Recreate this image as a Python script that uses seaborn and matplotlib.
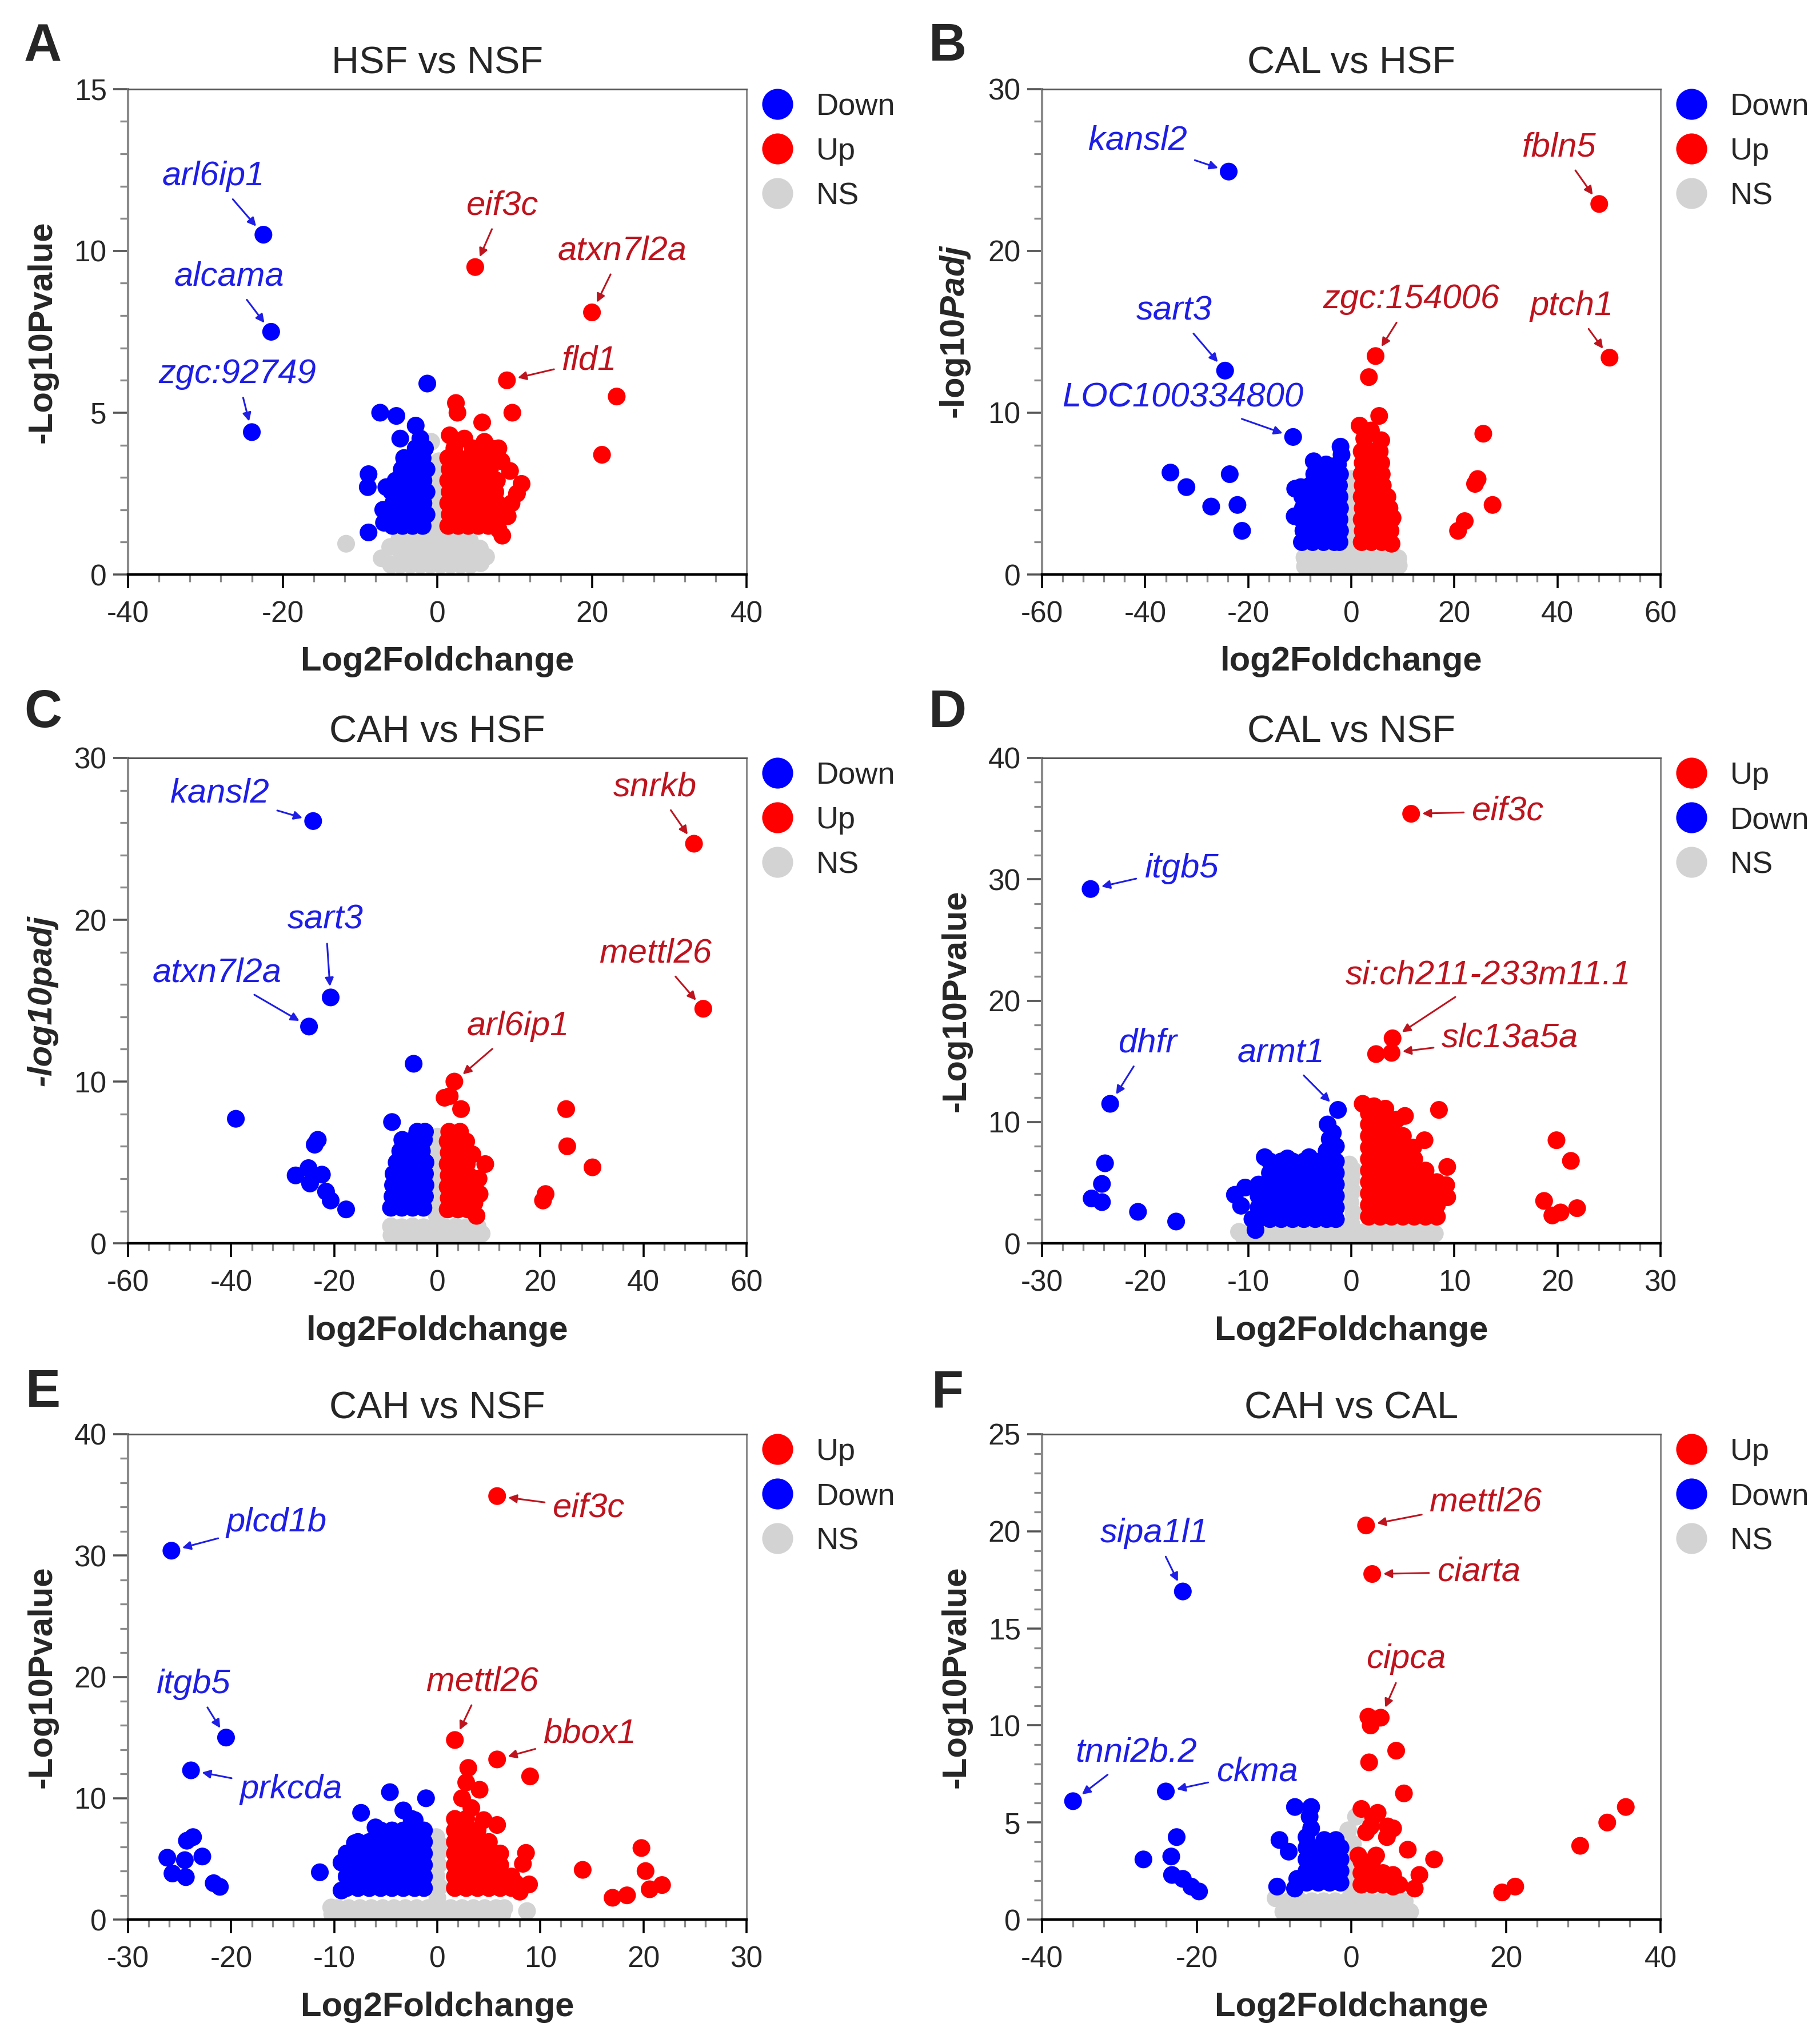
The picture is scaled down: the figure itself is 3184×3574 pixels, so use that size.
import pandas as pd
import matplotlib.pyplot as plt
import seaborn as sns
from matplotlib.lines import Line2D
from matplotlib.ticker import MultipleLocator

sns.set_style('ticks')
plt.rcParams['font.family'] = ['Liberation Sans', 'DejaVu Sans']
plt.rcParams['axes.unicode_minus'] = False
plt.rcParams['mathtext.fontset'] = 'custom'
plt.rcParams['mathtext.rm'] = 'Liberation Sans'
plt.rcParams['mathtext.bf'] = 'Liberation Sans:bold'
plt.rcParams['mathtext.it'] = 'Liberation Sans:italic'
try:
    plt.rcParams['mathtext.bfit'] = 'Liberation Sans:italic:bold'
except KeyError:
    pass

# ---------------- data ----------------
# A: HSF vs NSF
a_ns = [(-7.2, 0.5), (-6.0, 0.3), (-6.1, 0.85), (-4.8, 0.3), (-4.7, 0.7), (-4.9, 1.1),
        (-3.5, 0.3), (-3.4, 0.7), (-3.6, 1.1), (-2.2, 0.3), (-2.1, 0.65), (-2.3, 1.05),
        (-0.9, 0.3), (-0.8, 0.7), (-1.0, 1.1), (0.4, 0.3), (0.5, 0.7), (0.3, 1.1),
        (1.7, 0.3), (1.8, 0.7), (1.6, 1.1), (3.0, 0.3), (3.1, 0.7), (2.9, 1.05),
        (4.3, 0.3), (4.4, 0.7), (4.2, 1.05), (5.6, 0.35), (5.5, 0.8), (6.3, 0.55),
        (-0.3, 1.5), (0.2, 1.9), (-0.2, 2.3), (0.2, 2.7), (-0.1, 3.1), (0.2, 3.5),
        (-0.8, 4.1), (-11.8, 0.95)]
a_down = [(-22.5, 10.5), (-21.5, 7.5), (-24.0, 4.4), (-1.3, 5.9), (-7.4, 5.0), (-5.3, 4.9),
          (-2.8, 4.6), (-4.8, 4.2), (-2.2, 4.2), (-8.9, 3.1), (-9.0, 2.7), (-7.0, 2.0),
          (-8.9, 1.3), (-6.6, 2.7), (-6.9, 1.6),
          (-5.8, 1.5), (-4.5, 1.5), (-3.2, 1.5), (-1.9, 1.5),
          (-6.0, 1.85), (-4.8, 1.85), (-3.5, 1.85), (-2.3, 1.85), (-1.4, 1.85),
          (-5.7, 2.2), (-4.4, 2.2), (-3.1, 2.2), (-1.8, 2.2),
          (-5.9, 2.55), (-4.7, 2.55), (-3.4, 2.55), (-2.1, 2.55), (-1.4, 2.55),
          (-5.4, 2.9), (-4.3, 2.9), (-3.0, 2.9), (-1.8, 2.9),
          (-4.6, 3.25), (-3.4, 3.25), (-2.2, 3.25), (-1.4, 3.25),
          (-4.3, 3.6), (-3.1, 3.6), (-1.9, 3.6), (-2.8, 3.9), (-1.6, 3.9)]
a_up = [(4.9, 9.5), (20.0, 8.1), (9.0, 6.0), (23.2, 5.5), (21.3, 3.7), (2.4, 5.3),
        (2.6, 5.0), (5.8, 4.7), (9.7, 5.0), (1.6, 4.3), (3.5, 4.2), (6.1, 4.1),
        (8.3, 3.5), (7.9, 3.9), (10.9, 2.8), (10.3, 2.5), (9.6, 2.2), (9.1, 1.8),
        (7.9, 1.4), (8.4, 1.2), (9.4, 3.2),
        (1.4, 1.5), (2.7, 1.5), (4.0, 1.5), (5.3, 1.5), (6.6, 1.5),
        (1.6, 1.85), (2.9, 1.85), (4.2, 1.85), (5.5, 1.85), (6.8, 1.85), (7.6, 1.85),
        (1.4, 2.2), (2.7, 2.2), (4.0, 2.2), (5.3, 2.2), (6.6, 2.2), (7.8, 2.2),
        (1.6, 2.55), (2.9, 2.55), (4.2, 2.55), (5.5, 2.55), (6.8, 2.55), (7.5, 2.55),
        (1.4, 2.9), (2.7, 2.9), (4.0, 2.9), (5.3, 2.9), (6.6, 2.9), (7.7, 2.9),
        (1.6, 3.25), (2.9, 3.25), (4.2, 3.25), (5.5, 3.25), (6.8, 3.25),
        (1.4, 3.6), (2.7, 3.6), (4.0, 3.6), (5.3, 3.6), (6.6, 3.6),
        (2.2, 3.9), (4.6, 3.9), (6.9, 3.9)]
a_labels = [('arl6ip1', -22.5, 10.5, -29.0, 12.3, 'Down'), ('alcama', -21.5, 7.5, -26.9, 9.2, 'Down'),
            ('zgc:92749', -24.0, 4.4, -25.9, 6.2, 'Down'), ('eif3c', 4.9, 9.5, 8.4, 11.4, 'Up'),
            ('atxn7l2a', 20.0, 8.1, 23.9, 10.0, 'Up'), ('fld1', 9.0, 6.0, 19.7, 6.6, 'Up')]

# B: CAL vs HSF
b_ns = [(-9.0, 0.5), (-6.9, 0.45), (-4.8, 0.5), (-2.7, 0.45), (-0.6, 0.5), (1.5, 0.45),
        (3.6, 0.5), (5.7, 0.45), (7.8, 0.5), (9.2, 0.55), (-9.1, 1.05), (-7.0, 1.0),
        (-4.9, 1.05), (-2.8, 1.0), (-0.7, 1.05), (1.4, 1.0), (3.5, 1.05), (5.6, 1.0),
        (7.7, 1.05), (9.1, 1.0), (0.0, 1.7), (0.3, 2.4), (-0.2, 3.1), (0.2, 3.8),
        (-0.1, 4.5), (0.1, 5.2), (0.0, 5.9)]
b_down = [(-23.8, 24.9), (-24.5, 12.6), (-11.3, 8.5), (-35.1, 6.3), (-32.0, 5.4),
          (-27.2, 4.2), (-23.6, 6.2), (-22.1, 4.3), (-21.2, 2.7), (-10.9, 5.3),
          (-11.0, 3.6), (-2.1, 7.9), (-1.9, 7.4), (-7.3, 7.0), (-9.8, 5.4),
          (-9.6, 2.0), (-7.5, 2.0), (-5.4, 2.0), (-3.3, 2.0), (-2.3, 2.0),
          (-9.3, 2.7), (-7.2, 2.7), (-5.1, 2.7), (-3.0, 2.7), (-2.2, 2.7),
          (-9.6, 3.4), (-7.5, 3.4), (-5.4, 3.4), (-3.3, 3.4), (-2.3, 3.4),
          (-9.4, 4.1), (-7.3, 4.1), (-5.2, 4.1), (-3.1, 4.1), (-2.2, 4.1),
          (-9.5, 4.8), (-7.4, 4.8), (-5.3, 4.8), (-3.2, 4.8), (-2.3, 4.8),
          (-8.0, 5.5), (-6.1, 5.5), (-4.0, 5.5), (-2.4, 5.5),
          (-7.2, 6.2), (-5.2, 6.2), (-3.3, 6.2), (-2.2, 6.2),
          (-6.8, 6.8), (-4.9, 6.8), (-2.6, 6.8)]
b_up = [(48.1, 22.9), (50.1, 13.4), (4.7, 13.5), (3.4, 12.2), (5.4, 9.8), (1.6, 9.2),
        (3.8, 8.9), (5.8, 8.3), (2.5, 8.4), (8.0, 3.5), (7.8, 1.9), (25.6, 8.7),
        (24.0, 5.6), (24.5, 5.9), (27.4, 4.3), (22.0, 3.3), (20.7, 2.7),
        (2.0, 2.0), (3.9, 2.0), (5.9, 2.0), (7.3, 2.0),
        (2.2, 2.7), (4.1, 2.7), (6.1, 2.7), (7.6, 2.7),
        (2.0, 3.4), (3.9, 3.4), (5.9, 3.4), (7.8, 3.4),
        (2.2, 4.1), (4.1, 4.1), (6.1, 4.1), (7.4, 4.1),
        (2.0, 4.8), (3.9, 4.8), (5.9, 4.8), (7.0, 4.8),
        (2.2, 5.5), (4.1, 5.5), (6.1, 5.5),
        (2.0, 6.2), (3.9, 6.2), (5.9, 6.2),
        (2.2, 6.9), (4.1, 6.9), (5.8, 6.9),
        (2.0, 7.6), (3.9, 7.6), (5.5, 7.6)]
b_labels = [('kansl2', -23.8, 24.9, -41.5, 26.8, 'Down'), ('sart3', -24.5, 12.6, -34.4, 16.3, 'Down'),
            ('LOC100334800', -11.3, 8.5, -32.7, 10.9, 'Down'), ('zgc:154006', 4.7, 13.5, 11.6, 17.0, 'Up'),
            ('fbln5', 48.1, 22.9, 40.3, 26.4, 'Up'), ('ptch1', 50.1, 13.4, 42.8, 16.6, 'Up')]

# C: CAH vs HSF
c_ns = [(-8.9, 0.5), (-6.8, 0.45), (-4.7, 0.5), (-2.6, 0.45), (-0.5, 0.5), (1.6, 0.45),
        (3.7, 0.5), (5.8, 0.45), (7.9, 0.5), (8.6, 0.6), (-9.0, 1.05), (-6.9, 1.0),
        (-4.8, 1.05), (-2.7, 1.0), (-0.6, 1.05), (1.5, 1.0), (3.6, 1.05), (5.7, 1.0),
        (7.8, 1.05), (-0.1, 1.7), (0.2, 2.4), (-0.2, 3.1), (0.1, 3.8), (-0.1, 4.5),
        (0.2, 5.2), (-0.1, 5.9), (0.0, 6.6)]
c_down = [(-24.1, 26.1), (-20.7, 15.2), (-24.9, 13.4), (-39.1, 7.7), (-23.2, 6.4),
          (-23.8, 6.1), (-27.5, 4.2), (-25.0, 4.65), (-22.4, 4.25), (-24.7, 3.7),
          (-21.6, 3.2), (-20.7, 2.65), (-17.7, 2.1), (-4.6, 11.1), (-8.8, 7.5),
          (-9.0, 2.2), (-6.9, 2.2), (-4.8, 2.2), (-2.7, 2.2),
          (-8.7, 2.9), (-6.6, 2.9), (-4.5, 2.9), (-2.4, 2.9),
          (-8.6, 3.6), (-6.5, 3.6), (-4.4, 3.6), (-2.3, 3.6),
          (-8.5, 4.3), (-6.4, 4.3), (-4.3, 4.3), (-2.4, 4.3),
          (-7.9, 5.0), (-5.8, 5.0), (-3.7, 5.0), (-2.3, 5.0),
          (-7.2, 5.7), (-5.1, 5.7), (-3.0, 5.7),
          (-6.8, 6.4), (-4.7, 6.4), (-2.6, 6.4), (-3.9, 6.9), (-2.4, 6.9)]
c_up = [(49.8, 24.7), (51.6, 14.5), (3.3, 10.0), (1.4, 9.0), (2.4, 9.1), (4.6, 8.3),
        (9.3, 4.9), (8.0, 4.0), (8.2, 3.05), (7.6, 1.7), (7.2, 2.5), (6.8, 5.5),
        (25.0, 8.3), (25.2, 6.0), (30.1, 4.7), (21.0, 3.05), (20.5, 2.65),
        (2.0, 2.1), (4.0, 2.1), (5.9, 2.1), (2.2, 2.8), (4.2, 2.8), (6.1, 2.8),
        (2.0, 3.5), (4.0, 3.5), (5.9, 3.5), (2.2, 4.2), (4.2, 4.2), (6.1, 4.2),
        (2.0, 4.9), (4.0, 4.9), (5.7, 4.9), (2.2, 5.6), (4.2, 5.6), (5.9, 5.6),
        (2.0, 6.3), (4.0, 6.3), (5.6, 6.3), (2.3, 6.9), (4.4, 6.9)]
c_labels = [('kansl2', -24.1, 26.1, -42.2, 27.8, 'Down'), ('sart3', -20.7, 15.2, -21.7, 20.0, 'Down'),
            ('atxn7l2a', -24.9, 13.4, -42.7, 16.7, 'Down'), ('snrkb', 49.8, 24.7, 42.2, 28.2, 'Up'),
            ('mettl26', 51.6, 14.5, 42.4, 17.9, 'Up'), ('arl6ip1', 3.3, 10.0, 15.7, 13.4, 'Up')]

# D: CAL vs NSF
d_ns = [(-10.4, 0.45), (-9.3, 0.45), (-8.2, 0.45), (-7.1, 0.45), (-6.0, 0.45), (-4.9, 0.45),
        (-3.8, 0.45), (-2.7, 0.45), (-1.6, 0.45), (-0.5, 0.45), (0.6, 0.45), (1.7, 0.45),
        (2.8, 0.45), (3.9, 0.45), (5.0, 0.45), (6.1, 0.45), (7.2, 0.45),
        (-9.9, 0.9), (-8.8, 0.9), (-7.7, 0.9), (-6.6, 0.9), (-5.5, 0.9), (-4.4, 0.9),
        (-3.3, 0.9), (-2.2, 0.9), (-1.1, 0.9), (0.0, 0.9), (1.1, 0.9), (2.2, 0.9),
        (3.3, 0.9), (4.4, 0.9), (5.5, 0.9), (6.6, 0.9), (7.6, 0.9),
        (-10.9, 0.95), (8.1, 0.8), (0.0, 1.6), (0.2, 2.5), (-0.1, 3.4), (0.1, 4.3),
        (0.0, 5.2), (0.2, 6.0), (-0.2, 6.5)]
d_down = [(-25.3, 29.2), (-23.4, 11.5), (-1.3, 11.0), (-23.9, 6.6), (-24.2, 4.9), (-25.2, 3.7),
          (-24.2, 3.4), (-20.7, 2.6), (-17.0, 1.8), (-2.3, 9.8), (-1.5, 8.0), (-1.8, 9.1),
          (-2.1, 8.6), (-11.3, 4.0), (-10.7, 3.1), (-9.3, 1.1), (-10.3, 4.6), (-9.6, 2.0),
          (-8.4, 7.1), (-6.2, 7.0), (-4.1, 7.1),
          (-9.0, 2.0), (-9.0, 2.95), (-9.0, 3.9), (-9.0, 4.85),
          (-7.9, 2.0), (-7.9, 2.95), (-7.9, 3.9), (-7.9, 4.85), (-7.9, 5.8), (-7.9, 6.75),
          (-6.8, 2.0), (-6.8, 2.95), (-6.8, 3.9), (-6.8, 4.85), (-6.8, 5.8), (-6.8, 6.75),
          (-5.7, 2.0), (-5.7, 2.95), (-5.7, 3.9), (-5.7, 4.85), (-5.7, 5.8), (-5.7, 6.75),
          (-4.6, 2.0), (-4.6, 2.95), (-4.6, 3.9), (-4.6, 4.85), (-4.6, 5.8), (-4.6, 6.75),
          (-3.5, 2.0), (-3.5, 2.95), (-3.5, 3.9), (-3.5, 4.85), (-3.5, 5.8), (-3.5, 6.75),
          (-2.4, 2.0), (-2.4, 2.95), (-2.4, 3.9), (-2.4, 4.85), (-2.4, 5.8), (-2.4, 6.75),
          (-2.4, 7.6), (-1.5, 2.0), (-1.5, 2.95), (-1.5, 3.9), (-1.5, 4.85), (-1.5, 5.8),
          (-1.5, 6.75)]
d_up = [(5.8, 35.4), (4.0, 16.9), (3.9, 15.7), (2.4, 15.6), (19.9, 8.5), (21.3, 6.8),
        (18.7, 3.5), (19.5, 2.3), (20.3, 2.55), (21.9, 2.9), (1.1, 11.5), (3.3, 11.1),
        (5.2, 10.5), (8.5, 11.0), (7.1, 8.5), (9.3, 6.3), (9.3, 3.8), (9.2, 4.8),
        (6.0, 7.9), (4.4, 10.2), (2.2, 11.3),
        (1.7, 2.2), (1.7, 3.15), (1.7, 4.1), (1.7, 5.05), (1.7, 6.0), (1.7, 6.95),
        (1.7, 7.9), (1.7, 8.85), (1.7, 9.8), (1.7, 10.7),
        (2.8, 2.2), (2.8, 3.15), (2.8, 4.1), (2.8, 5.05), (2.8, 6.0), (2.8, 6.95),
        (2.8, 7.9), (2.8, 8.85), (2.8, 9.8), (2.8, 10.7),
        (3.9, 2.2), (3.9, 3.15), (3.9, 4.1), (3.9, 5.05), (3.9, 6.0), (3.9, 6.95),
        (3.9, 7.9), (3.9, 8.85), (3.9, 9.8),
        (5.0, 2.2), (5.0, 3.15), (5.0, 4.1), (5.0, 5.05), (5.0, 6.0), (5.0, 6.95),
        (5.0, 7.9), (5.0, 8.85),
        (6.1, 2.2), (6.1, 3.15), (6.1, 4.1), (6.1, 5.05), (6.1, 6.0), (6.1, 6.95),
        (7.2, 2.2), (7.2, 3.15), (7.2, 4.1), (7.2, 5.05), (7.2, 6.0),
        (8.3, 2.2), (8.3, 3.15), (8.3, 4.1), (8.3, 5.05)]
d_labels = [('eif3c', 5.8, 35.4, 15.2, 35.6, 'Up'), ('itgb5', -25.3, 29.2, -16.5, 30.9, 'Down'),
            ('dhfr', -23.4, 11.5, -19.7, 16.5, 'Down'), ('armt1', -1.3, 11.0, -6.8, 15.7, 'Down'),
            ('si:ch211-233m11.1', 4.0, 16.9, 13.3, 22.1, 'Up'), ('slc13a5a', 3.9, 15.7, 15.4, 16.9, 'Up')]

# E: CAH vs NSF
e_ns = [(-10.2, 0.45), (-9.1, 0.45), (-8.0, 0.45), (-6.9, 0.45), (-5.8, 0.45), (-4.7, 0.45),
        (-3.6, 0.45), (-2.5, 0.45), (-1.4, 0.45), (-0.3, 0.45), (0.8, 0.45), (1.9, 0.45),
        (3.0, 0.45), (4.1, 0.45), (5.2, 0.45), (6.3, 0.45),
        (-9.7, 0.95), (-8.6, 0.95), (-7.5, 0.95), (-6.4, 0.95), (-5.3, 0.95), (-4.2, 0.95),
        (-3.1, 0.95), (-2.0, 0.95), (-0.9, 0.95), (0.2, 0.95), (1.3, 0.95), (2.4, 0.95),
        (3.5, 0.95), (4.6, 0.95), (5.7, 0.95), (6.5, 0.95),
        (-10.3, 1.0), (8.7, 0.7), (0.0, 1.8), (0.2, 2.7), (-0.1, 3.6), (0.1, 4.5),
        (0.0, 5.4), (0.2, 6.2), (-0.1, 6.8)]
e_down = [(-25.8, 30.4), (-20.5, 15.0), (-23.9, 12.3), (-23.7, 6.8), (-24.3, 6.5), (-26.2, 5.1),
          (-24.5, 4.9), (-22.8, 5.2), (-25.7, 3.8), (-24.4, 3.5), (-21.7, 3.0), (-21.1, 2.7),
          (-4.6, 10.5), (-1.1, 10.0), (-7.4, 8.8), (-11.4, 3.9), (-3.3, 9.0), (-2.5, 8.3),
          (-8.0, 6.3), (-9.3, 2.4), (-6.0, 7.6), (-9.3, 4.7),
          (-8.8, 2.6), (-8.8, 3.55), (-8.8, 4.5), (-8.8, 5.45),
          (-7.7, 2.6), (-7.7, 3.55), (-7.7, 4.5), (-7.7, 5.45), (-7.7, 6.4),
          (-6.6, 2.6), (-6.6, 3.55), (-6.6, 4.5), (-6.6, 5.45), (-6.6, 6.4),
          (-5.5, 2.6), (-5.5, 3.55), (-5.5, 4.5), (-5.5, 5.45), (-5.5, 6.4), (-5.5, 7.35),
          (-4.4, 2.6), (-4.4, 3.55), (-4.4, 4.5), (-4.4, 5.45), (-4.4, 6.4), (-4.4, 7.35),
          (-3.3, 2.6), (-3.3, 3.55), (-3.3, 4.5), (-3.3, 5.45), (-3.3, 6.4), (-3.3, 7.35),
          (-2.2, 2.6), (-2.2, 3.55), (-2.2, 4.5), (-2.2, 5.45), (-2.2, 6.4), (-2.2, 7.35),
          (-2.2, 8.2), (-1.3, 2.6), (-1.3, 3.55), (-1.3, 4.5), (-1.3, 5.45), (-1.3, 6.4),
          (-1.3, 7.35)]
e_up = [(5.8, 34.9), (1.7, 14.8), (5.8, 13.2), (9.0, 11.8), (3.0, 12.5), (4.1, 10.7),
        (2.8, 11.3), (2.4, 10.0), (5.8, 7.8), (8.6, 5.5), (8.9, 2.9), (8.3, 4.6),
        (7.6, 3.0), (3.3, 9.2), (4.5, 8.2), (8.0, 2.3),
        (19.8, 5.9), (14.1, 4.1), (20.2, 4.0), (20.6, 2.5), (21.8, 2.85), (17.0, 1.8), (18.4, 2.0),
        (1.7, 2.6), (1.7, 3.55), (1.7, 4.5), (1.7, 5.45), (1.7, 6.4), (1.7, 7.35), (1.7, 8.3),
        (2.8, 2.6), (2.8, 3.55), (2.8, 4.5), (2.8, 5.45), (2.8, 6.4), (2.8, 7.35), (2.8, 8.3),
        (3.9, 2.6), (3.9, 3.55), (3.9, 4.5), (3.9, 5.45), (3.9, 6.4), (3.9, 7.35),
        (5.0, 2.6), (5.0, 3.55), (5.0, 4.5), (5.0, 5.45), (5.0, 6.4),
        (6.1, 2.6), (6.1, 3.55), (6.1, 4.5), (6.1, 5.45),
        (7.2, 2.6), (7.2, 3.55)]
e_labels = [('eif3c', 5.8, 34.9, 14.7, 33.9, 'Up'), ('plcd1b', -25.8, 30.4, -15.6, 32.7, 'Down'),
            ('itgb5', -20.5, 15.0, -23.7, 19.4, 'Down'), ('prkcda', -23.9, 12.3, -14.2, 10.7, 'Down'),
            ('mettl26', 1.7, 14.8, 4.4, 19.6, 'Up'), ('bbox1', 5.8, 13.2, 14.8, 15.3, 'Up')]

# F: CAH vs CAL
f_ns = [(-8.8, 0.4), (-7.3, 0.4), (-5.8, 0.4), (-4.3, 0.4), (-2.8, 0.4), (-1.3, 0.4),
        (0.2, 0.4), (1.7, 0.4), (3.2, 0.4), (4.7, 0.4), (6.2, 0.4), (7.6, 0.4),
        (-8.1, 0.95), (-6.6, 0.95), (-5.1, 0.95), (-3.6, 0.95), (-2.1, 0.95), (-0.6, 0.95),
        (0.9, 0.95), (2.4, 0.95), (3.9, 0.95), (5.4, 0.95), (6.9, 0.95),
        (-9.8, 1.1), (0.0, 1.5), (-0.2, 2.1), (0.1, 2.7), (-0.1, 3.3), (0.2, 3.9),
        (-0.4, 4.6), (0.6, 5.3), (1.0, 2.0), (2.0, 1.6)]
f_down = [(-36.0, 6.1), (-24.0, 6.6), (-21.8, 16.9), (-22.6, 4.25), (-26.9, 3.1), (-23.3, 3.25),
          (-23.2, 2.3), (-21.8, 2.1), (-20.7, 1.7), (-19.7, 1.45),
          (-7.3, 5.8), (-5.2, 5.8), (-5.4, 5.3), (-9.3, 4.1), (-8.1, 3.5), (-9.6, 1.7),
          (-7.0, 2.1), (-5.8, 4.25), (-7.3, 1.6), (-3.5, 4.1), (-2.0, 4.1), (-5.2, 4.7),
          (-5.8, 1.9), (-5.8, 2.5), (-5.8, 3.1), (-5.8, 3.7),
          (-4.3, 1.9), (-4.3, 2.5), (-4.3, 3.1), (-4.3, 3.7),
          (-2.8, 1.9), (-2.8, 2.5), (-2.8, 3.1), (-2.8, 3.7),
          (-1.4, 1.9), (-1.4, 2.5), (-1.4, 3.1), (-1.4, 3.7)]
f_up = [(1.9, 20.3), (2.7, 17.8), (3.8, 10.4), (2.2, 10.45), (2.5, 10.0), (5.8, 8.7),
        (2.3, 8.1), (6.8, 6.5), (1.3, 5.7), (2.8, 5.3), (3.4, 5.5), (1.9, 4.5),
        (2.5, 4.8), (4.7, 4.8), (4.6, 4.25), (5.4, 4.7), (3.2, 3.3), (0.9, 3.3),
        (7.3, 3.6), (10.7, 3.1), (8.8, 2.3), (8.2, 1.6), (6.2, 1.8),
        (35.5, 5.8), (33.1, 5.0), (29.6, 3.8), (21.2, 1.7), (19.5, 1.4),
        (1.3, 1.8), (1.3, 2.4), (1.3, 3.0), (2.7, 1.8), (2.7, 2.4), (2.7, 3.0),
        (4.1, 1.8), (4.1, 2.4), (5.4, 1.7), (5.4, 2.3)]
f_labels = [('mettl26', 1.9, 20.3, 17.4, 21.5, 'Up'), ('ciarta', 2.7, 17.8, 16.5, 17.9, 'Up'),
            ('sipa1l1', -21.8, 16.9, -25.5, 19.9, 'Down'), ('cipca', 3.8, 10.4, 7.1, 13.4, 'Up'),
            ('tnni2b.2', -36.0, 6.1, -27.8, 8.6, 'Down'), ('ckma', -24.0, 6.6, -12.2, 7.6, 'Down')]

# ---------------- styling ----------------
colors = {'NS': '#d3d3d3', 'Down': '#0000ff', 'Up': '#ff0000'}
text_colors = {'Down': '#1e1ee6', 'Up': '#be141e'}

panels = [
    dict(tag='A', title='HSF vs NSF', ns=a_ns, down=a_down, up=a_up, labels=a_labels,
         xlim=(-40, 40), xmaj=20, xmin=4, ylim=(0, 15), ymaj=5, ymin=1,
         xlabel='Log2Foldchange', ylabel='-Log10Pvalue', order=['Down', 'Up', 'NS']),
    dict(tag='B', title='CAL vs HSF', ns=b_ns, down=b_down, up=b_up, labels=b_labels,
         xlim=(-60, 60), xmaj=20, xmin=4, ylim=(0, 30), ymaj=10, ymin=2,
         xlabel='log2Foldchange', ylabel='-log10$\\mathbfit{Padj}$', order=['Down', 'Up', 'NS']),
    dict(tag='C', title='CAH vs HSF', ns=c_ns, down=c_down, up=c_up, labels=c_labels,
         xlim=(-60, 60), xmaj=20, xmin=4, ylim=(0, 30), ymaj=10, ymin=2,
         xlabel='log2Foldchange', ylabel='-log10padj', order=['Down', 'Up', 'NS']),
    dict(tag='D', title='CAL vs NSF', ns=d_ns, down=d_down, up=d_up, labels=d_labels,
         xlim=(-30, 30), xmaj=10, xmin=2, ylim=(0, 40), ymaj=10, ymin=2,
         xlabel='Log2Foldchange', ylabel='-Log10Pvalue', order=['Up', 'Down', 'NS']),
    dict(tag='E', title='CAH vs NSF', ns=e_ns, down=e_down, up=e_up, labels=e_labels,
         xlim=(-30, 30), xmaj=10, xmin=2, ylim=(0, 40), ymaj=10, ymin=2,
         xlabel='Log2Foldchange', ylabel='-Log10Pvalue', order=['Up', 'Down', 'NS']),
    dict(tag='F', title='CAH vs CAL', ns=f_ns, down=f_down, up=f_up, labels=f_labels,
         xlim=(-40, 40), xmaj=20, xmin=4, ylim=(0, 25), ymaj=5, ymin=1,
         xlabel='Log2Foldchange', ylabel='-Log10Pvalue', order=['Up', 'Down', 'NS']),
]

fig = plt.figure(figsize=(15.92, 17.87), dpi=200)
lefts = [0.0704, 0.5726]
bottoms = [0.7188, 0.3914, 0.0604]
w, h = 0.3398, 0.2376
letter_x = [0.0236, 0.5207]
letter_y = [0.9770, 0.6508, 0.3181]

for i, p in enumerate(panels):
    r, c = divmod(i, 2)
    ax = fig.add_axes([lefts[c], bottoms[r], w, h])

    df = pd.concat([
        pd.DataFrame(p['ns'], columns=['fc', 'p']).assign(group='NS'),
        pd.DataFrame(p['down'], columns=['fc', 'p']).assign(group='Down'),
        pd.DataFrame(p['up'], columns=['fc', 'p']).assign(group='Up'),
    ], ignore_index=True)
    sns.scatterplot(data=df, x='fc', y='p', hue='group', palette=colors, s=125,
                    linewidth=0, legend=False, ax=ax)

    for name, px, py, tx, ty, grp in p['labels']:
        col = text_colors[grp]
        ax.annotate(name, xy=(px, py), xytext=(tx, ty), ha='center', va='center',
                    fontsize=21.5, style='italic', color=col,
                    arrowprops=dict(arrowstyle='-|>', color=col, lw=1.1,
                                    shrinkA=3, shrinkB=7, mutation_scale=11))

    ax.set_xlim(*p['xlim'])
    ax.set_ylim(*p['ylim'])
    ax.xaxis.set_major_locator(MultipleLocator(p['xmaj']))
    ax.xaxis.set_minor_locator(MultipleLocator(p['xmin']))
    ax.yaxis.set_major_locator(MultipleLocator(p['ymaj']))
    ax.yaxis.set_minor_locator(MultipleLocator(p['ymin']))

    for side in ['top', 'right', 'left', 'bottom']:
        ax.spines[side].set_visible(True)
    ax.spines['bottom'].set_color('black')
    ax.spines['bottom'].set_linewidth(1.6)
    ax.spines['left'].set_color('#8a8a8a')
    ax.spines['left'].set_linewidth(1.5)
    ax.spines['top'].set_color('#555555')
    ax.spines['top'].set_linewidth(1.1)
    ax.spines['right'].set_color('#8a8a8a')
    ax.spines['right'].set_linewidth(1.1)

    ax.tick_params(axis='x', which='major', direction='out', length=8.5, width=1.3,
                   color='black', labelsize=18.5, pad=8)
    ax.tick_params(axis='x', which='minor', direction='out', length=4.7, width=1.2,
                   color='#8a8a8a')
    ax.tick_params(axis='y', which='major', direction='out', length=9.5, width=1.3,
                   color='#555555', labelsize=18.5, pad=4)
    ax.tick_params(axis='y', which='minor', direction='out', length=5, width=1.2,
                   color='#8a8a8a')

    ax.set_title(p['title'], fontsize=24, pad=10)
    ax.set_xlabel(p['xlabel'], fontsize=21.5, fontweight='bold', labelpad=11)
    ax.set_ylabel(p['ylabel'], fontsize=21.5, fontweight='bold', labelpad=10,
                  fontstyle='italic' if p['tag'] == 'C' else 'normal')

    handles = [Line2D([], [], marker='o', ls='', markersize=19.5, markeredgewidth=0,
                      markerfacecolor=colors[g], color=colors[g]) for g in p['order']]
    ax.legend(handles, p['order'], loc='upper left', bbox_to_anchor=(1.025, 0.993),
              frameon=False, fontsize=19.5, handlelength=1.0, handletextpad=0.75,
              labelspacing=0.52, borderaxespad=0, borderpad=0)

    fig.text(letter_x[c], letter_y[r], p['tag'], fontsize=33, fontweight='bold',
             ha='center', va='center')

fig.savefig('out.png', dpi=200)
